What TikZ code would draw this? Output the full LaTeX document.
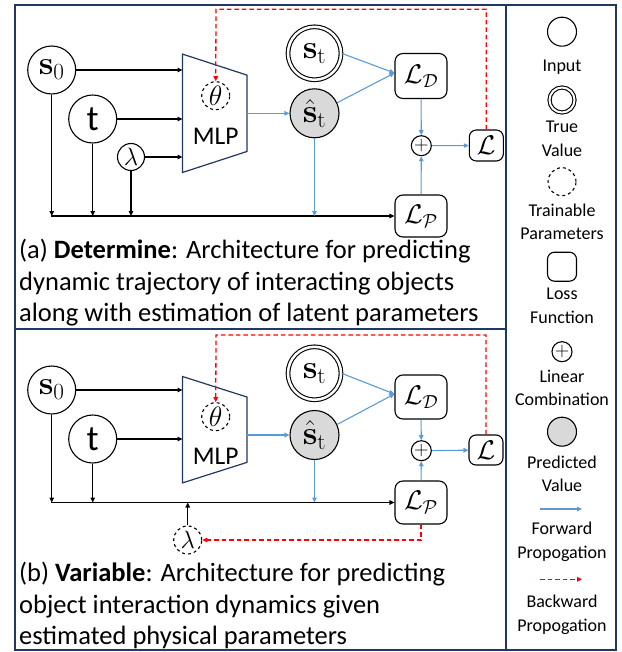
\RequirePackage{fix-cm}
\documentclass[tikz,border=0pt]{standalone}
\usepackage[no-math]{fontspec}
\setmainfont{Carlito}
\usetikzlibrary{arrows.meta}

\definecolor{framenavy}{HTML}{203864}
\definecolor{fwdblue}{HTML}{5B9BD5}
\definecolor{predgray}{HTML}{D9D9D9}

\tikzset{
    varnode/.style={circle,draw,line width=1.1pt,inner sep=0pt,minimum size=48pt,
        font=\fontsize{33}{36}\selectfont},
    truenode/.style={varnode,double,double distance=2.5pt,minimum size=53pt},
    prednode/.style={varnode,fill=predgray,minimum size=49pt},
    paramnode/.style={varnode,dashed,minimum size=28pt,font=\fontsize{28}{30}\selectfont},
    lossnode/.style={draw,line width=1.1pt,rounded corners=8pt,inner sep=0pt,
        minimum width=52pt,minimum height=44pt,font=\fontsize{27}{30}\selectfont},
    sumnode/.style={circle,draw,line width=1.1pt,inner sep=0pt,minimum size=20pt,
        font=\fontsize{20}{22}\selectfont},
    mlpbox/.style={inner sep=0pt,minimum width=64pt},
    mlpline/.style={draw=framenavy,line width=1.2pt},
    link/.style={line width=1.1pt,-{Triangle[length=5pt,width=4.5pt]}},
    fwd/.style={link,fwdblue},
    back/.style={link,red,line width=1.3pt,dash pattern=on 4.5pt off 3pt},
    caption/.style={anchor=north west,align=left,inner sep=0pt,
        font=\fontsize{26.5}{31.5}\selectfont},
    keytext/.style={align=center,inner sep=0pt,font=\fontsize{18}{23.5}\selectfont},
}

\begin{document}
\begin{tikzpicture}[x=1pt,y=-1pt]
    \useasboundingbox (0,0) rectangle (621,652);
    %% frames
    \draw[framenavy,line width=1.5pt] (15,5) rectangle (506,650);
    \draw[framenavy,line width=1.5pt] (15,329) -- (506,329);
    \draw[framenavy,line width=1.5pt] (506,5) rectangle (616,650);

    \begin{scope}
        %% inputs
        \node[varnode] (a-s0) at (51.7,70) {$\mathbf{s}_0$};
        \node[varnode,font=\fontsize{36}{38}\selectfont] (a-t) at (92.7,119) {t};
        \node[varnode,minimum size=27pt,font=\fontsize{25}{27}\selectfont] (a-lam) at (131,157) {$\lambda$};
        %% MLP
        \node[mlpbox,minimum height=118pt] (a-mlp) at (214.7,113.3) {};
        \draw[mlpline] (a-mlp.north west) -- ([yshift=-21pt]a-mlp.north east)
            -- ([yshift=21pt]a-mlp.south east) -- (a-mlp.south west) -- cycle;
        \node[paramnode] (a-theta) at (215.7,95.7) {$\theta$};
        \node[font=\fontsize{25.5}{28}\selectfont] (a-mlptext) at (215.7,136.7) {MLP};
        %% outputs
        \node[truenode] (a-st) at (314.5,53.3) {$\mathbf{s}_\mathrm{t}$};
        \node[prednode] (a-shat) at (314.5,113.3) {$\hat{\mathbf{s}}_\mathrm{t}$};
        %% losses
        \node[lossnode,minimum height=45pt] (a-LD) at (421,76) {$\mathcal{L}_\mathcal{D}$};
        \node[lossnode,minimum height=42pt] (a-LP) at (421,216) {$\mathcal{L}_\mathcal{P}$};
        \node[sumnode] (a-sum) at (421.3,145.7) {$+$};
        \node[lossnode,minimum width=34pt,minimum height=31pt,rounded corners=7pt] (a-L) at (486.3,145.5) {$\mathcal{L}$};
        \coordinate (a-bus) at (51,216);
        \coordinate (a-top) at (216,9.3);
        %% inputs to MLP and loss
        \draw[link] (a-s0) -- (a-s0 -| a-mlp.west);
        \draw[link] (a-t) -- (a-t -| a-mlp.west);
        \draw[link] (a-lam) -- (a-lam -| a-mlp.west);
        \draw[link] (a-s0) -- (a-s0 |- a-bus);
        \draw[link] (a-t) -- (a-t |- a-bus);
        \draw[link] (a-lam) -- (a-lam |- a-bus);
        \draw[link] (a-bus) -- (a-LP.west);
        %% forward pass
        \draw[fwd] (a-mlp.east |- a-shat) -- (a-shat);
        \draw[fwd] (a-shat) -- (a-shat |- a-bus);
        \draw[fwd] (a-st.east) -- ([yshift=3pt]a-LD.west);
        \draw[fwd] (a-shat.25) -- ([yshift=3pt]a-LD.west);
        \draw[fwd] (a-LD) -- (a-sum);
        \draw[fwd] (a-LP) -- (a-sum);
        \draw[fwd] (a-sum) -- (a-L);
        %% backward pass
        \draw[back] (a-L) |- (a-top) -- (a-theta);
        %% caption
        \node[caption] (a-cap) at (19,239) {(a) \textbf{Determine}: Architecture for predicting\\
            dynamic trajectory of interacting objects\\
            along with estimation of latent parameters};
    \end{scope}

    \begin{scope}
        %% inputs
        \node[varnode] (b-s0) at (51.7,390) {$\mathbf{s}_0$};
        \node[varnode,font=\fontsize{36}{38}\selectfont] (b-t) at (92.7,439) {t};
        %% MLP
        \node[mlpbox,minimum height=106pt] (b-mlp) at (214.7,429.7) {};
        \draw[mlpline] (b-mlp.north west) -- ([yshift=-20.5pt]b-mlp.north east)
            -- ([yshift=20.5pt]b-mlp.south east) -- (b-mlp.south west) -- cycle;
        \node[paramnode] (b-theta) at (215.7,416.7) {$\theta$};
        \node[font=\fontsize{25.5}{28}\selectfont] (b-mlptext) at (215.7,456) {MLP};
        %% outputs
        \node[truenode] (b-st) at (314.5,373.3) {$\mathbf{s}_\mathrm{t}$};
        \node[prednode] (b-shat) at (314.5,435) {$\hat{\mathbf{s}}_\mathrm{t}$};
        %% losses
        \node[lossnode] (b-LD) at (421,397) {$\mathcal{L}_\mathcal{D}$};
        \node[lossnode,minimum height=43pt] (b-LP) at (421,502.5) {$\mathcal{L}_\mathcal{P}$};
        \node[sumnode] (b-sum) at (421.3,450.7) {$+$};
        \node[lossnode,minimum width=34pt,minimum height=30pt,rounded corners=7pt] (b-L) at (486,450) {$\mathcal{L}$};
        %% latent parameter
        \node[paramnode,font=\fontsize{25}{27}\selectfont] (b-lam) at (187.7,540) {$\lambda$};
        \coordinate (b-bus) at (51,502.5);
        \coordinate (b-top) at (216,335);
        %% inputs to MLP and loss
        \draw[link] (b-s0) -- (b-s0 -| b-mlp.west);
        \draw[link] (b-t) -- (b-t -| b-mlp.west);
        \draw[link] (b-s0) -- (b-s0 |- b-bus);
        \draw[link] (b-t) -- (b-t |- b-bus);
        \draw[link] (b-lam) -- (b-lam |- b-bus);
        \draw[link] (b-bus) -- (b-LP.west);
        %% forward pass
        \draw[fwd] (b-mlp.east |- b-shat) -- (b-shat);
        \draw[fwd] (b-shat) -- (b-shat |- b-bus);
        \draw[fwd] (b-st.east) -- ([yshift=3pt]b-LD.west);
        \draw[fwd] (b-shat.25) -- ([yshift=3pt]b-LD.west);
        \draw[fwd] (b-LD) -- (b-sum);
        \draw[fwd] (b-LP) -- (b-sum);
        \draw[fwd] (b-sum) -- (b-L);
        %% backward pass
        \draw[back] (b-L) |- (b-top) -- (b-theta);
        \draw[back] (b-LP) |- (b-lam);
        %% caption
        \node[caption] (b-cap) at (19,562) {(b) \textbf{Variable}: Architecture for predicting\\
            object interaction dynamics given\\
            estimated physical parameters};
    \end{scope}

    %% legend
    \begin{scope}
        \node[varnode,minimum size=29pt] (k-in) at (562,31.7) {};
        \node[keytext] (k-in-lbl) at (562,66.7) {Input};
        \node[truenode,minimum size=25pt,double distance=2pt] (k-true) at (562,100) {};
        \node[keytext] (k-true-lbl) at (562,138.7) {True\\Value};
        \node[paramnode] (k-par) at (562,181.7) {};
        \node[keytext] (k-par-lbl) at (562,221.7) {Trainable\\Parameters};
        \node[lossnode,minimum width=29pt,minimum height=29pt,rounded corners=7pt] (k-loss) at (562,266.7) {};
        \node[keytext] (k-loss-lbl) at (562,305.8) {Loss\\Function};
        \node[sumnode] (k-sum) at (562,351.7) {$+$};
        \node[keytext] (k-sum-lbl) at (562,387.8) {Linear\\Combination};
        \node[prednode,minimum size=29pt] (k-pred) at (562,431.7) {};
        \node[keytext] (k-pred-lbl) at (562,473.8) {Predicted\\Value};
        \coordinate (k-fwd-a) at (540,509);
        \coordinate (k-fwd-b) at (582,509);
        \draw[fwd] (k-fwd-a) -- (k-fwd-b);
        \node[keytext] (k-fwd-lbl) at (562,541.7) {Forward\\Propogation};
        \coordinate (k-back-a) at (540,579.3);
        \coordinate (k-back-b) at (582,579.3);
        \draw[back] (k-back-a) -- (k-back-b);
        \node[keytext] (k-back-lbl) at (562,615) {Backward\\Propogation};
    \end{scope}
\end{tikzpicture}
\end{document}
